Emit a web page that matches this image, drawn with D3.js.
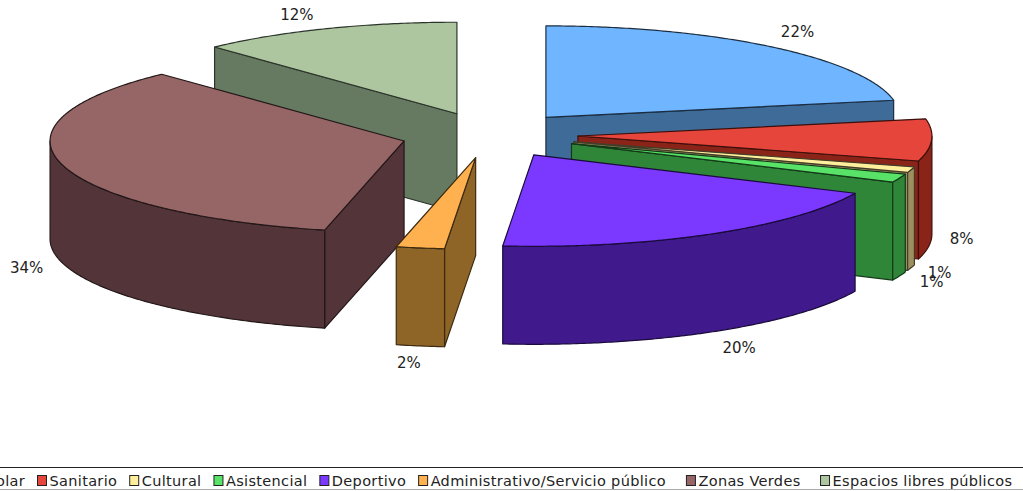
<!DOCTYPE html>
<html><head><meta charset="utf-8">
<script src="https://cdnjs.cloudflare.com/ajax/libs/d3/7.8.5/d3.min.js"></script>
<style>html,body{margin:0;padding:0;background:#fff;overflow:hidden}svg{display:block}text{font-family:"DejaVu Sans",sans-serif;fill:#222}</style>
</head><body><svg id="c" width="1023" height="491"></svg>
<script>
const categories = ["Escolar","Sanitario","Cultural","Asistencial","Deportivo","Administrativo/Servicio público","Zonas Verdes","Espacios libres públicos"];
const values = [22, 7.4, 1.0, 1.5, 19.5, 2.2, 34.4, 12];
const percentLabels = ["22%","8%","1%","1%","20%","2%","34%","12%"];
const topColors = ["#6fb5ff","#e5453b","#ffee9c","#58e368","#7b39ff","#ffb14f","#966666","#aec6a0"];
const sideColors = ["#3f6b98","#8a2419","#9c9060","#2f8538","#401a8c","#8f6527","#533539","#667a62"];
const labelNudgeX = [-2,-2,-3,1,2,7,-4,-6];
const labelNudgeY = [-4.5,0,1,0,3,3,1.5,-1];
const legendGaps = [12,12,12,12,12,20,19.5,12];

const W = 1023, H = 491, cx = 489.5, cy = 135, rx = 354, ry = 91.5, depth = 98, explode = 0.25;
const svg = d3.select("#c");
const pie = d3.pie().sort(null).value(d => d.v);
const arcs = pie(values.map((v,i) => ({v,i})));
const ex = t => Math.sin(t), ey = t => -Math.cos(t);
const line = d3.line();
arcs.forEach(a => {
  a.mid = (a.startAngle + a.endAngle) / 2;
  a.ax = cx + explode * rx * ex(a.mid);
  a.ay = cy + explode * ry * ey(a.mid);
});
const pt = (a,t,dz=0) => [a.ax + rx*ex(t), a.ay + ry*ey(t) + dz];
const arcPts = (a,t0,t1,dz=0) => {
  const n = Math.max(2, Math.ceil((t1-t0)/0.01));
  return d3.range(n+1).map(k => pt(a, t0+(t1-t0)*k/n, dz));
};
const order = arcs.slice().sort((p,q) => Math.cos(q.mid) - Math.cos(p.mid));
const g = svg.append("g");
const stroke = i => d3.color(sideColors[i]).darker(2.4).formatHex();
function face(pts, fill, i){
  g.append("path").attr("d", line(pts)+"Z").attr("fill", fill).attr("stroke", stroke(i)).attr("stroke-width",1.2).attr("stroke-linejoin","round");
}
order.forEach(a => {
  const i = a.index, s = a.startAngle, e = a.endAngle;
  const edge = t => {
    const o = [a.ax,a.ay], p = pt(a,t);
    face([o,p,[p[0],p[1]+depth],[o[0],o[1]+depth]], sideColors[i], i);
  };
  if (s > Math.PI) edge(s);
  if (e < Math.PI) edge(e);
  const w0 = Math.max(s, Math.PI/2), w1 = Math.min(e, 1.5*Math.PI);
  if (w1 > w0) face(arcPts(a,w0,w1).concat(arcPts(a,w0,w1,depth).reverse()), sideColors[i], i);
  face([[a.ax,a.ay]].concat(arcPts(a,s,e)), topColors[i], i);
});
// percentage labels
const lab = svg.append("g").attr("font-size",15);
arcs.forEach(a => {
  const sn = ex(a.mid), cs = Math.cos(a.mid), p = pt(a,a.mid);
  const lx = p[0] + 32*Math.sign(sn)*Math.pow(Math.abs(sn),0.3) + labelNudgeX[a.index];
  const ly = p[1] - cs*14 + (cs<0 ? depth : 0) + labelNudgeY[a.index];
  lab.append("text").attr("x",lx).attr("y",ly).attr("dy","0.36em").attr("text-anchor","middle").text(percentLabels[a.index]);
});
// legend
svg.append("line").attr("x1",0).attr("x2",W).attr("y1",467.5).attr("y2",467.5).attr("stroke","#222").attr("stroke-width",1.2);
svg.append("line").attr("x1",0).attr("x2",W).attr("y1",489.5).attr("y2",489.5).attr("stroke","#aaa").attr("stroke-width",1);
const leg = svg.append("g").attr("font-size",14.5).attr("letter-spacing",0.33);
const texts = categories.map(c => leg.append("text").attr("y",486).text(c));
const widths = texts.map(t => t.node().getComputedTextLength());
const boxW = 10, boxGap = 2.5;
let x = 37 - (boxW+boxGap+widths[0]+legendGaps[0]);
texts.forEach((t,i) => {
  leg.append("rect").attr("x",x+.5).attr("y",475.5).attr("width",boxW-1).attr("height",10).attr("fill",topColors[i]).attr("stroke","#222").attr("stroke-width",1);
  t.attr("x",x+boxW+boxGap);
  x += boxW+boxGap+widths[i]+legendGaps[i];
});
</script></body></html>
